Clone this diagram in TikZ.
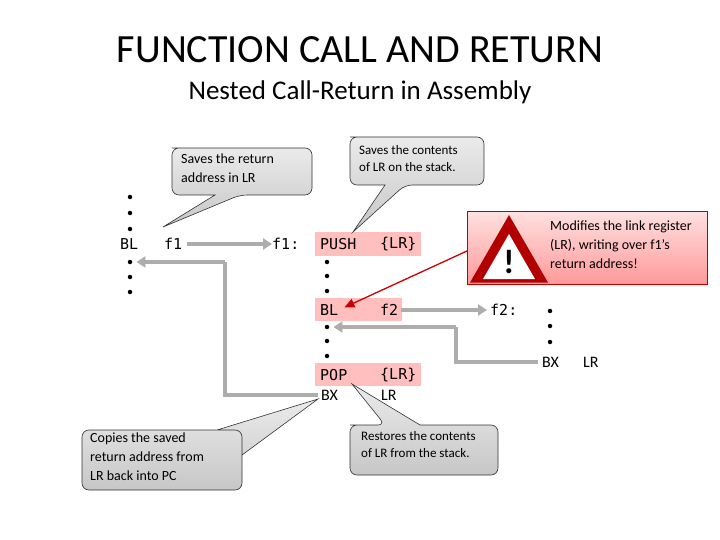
\documentclass[tikz,border=0pt]{standalone}
\usepackage{fontspec}
\setmainfont{Carlito}
\newfontfamily\codefont{DejaVu Sans Mono}
\usetikzlibrary{arrows.meta,shapes.geometric}
\begin{document}
\begin{tikzpicture}[x=1pt,y=-1pt,
  code/.style={font=\codefont\fontsize{15}{16}\selectfont,anchor=west,inner sep=0},
  hl/.style={fill=red!25,draw=none},
  dot/.style={circle,fill=black,inner sep=0,minimum size=4.5pt},
  flow/.style={draw=black!32,line width=4.5pt,-{Triangle[length=9pt,width=11pt]}},
  flown/.style={draw=black!32,line width=4.5pt},
  callout/.style={draw=black!80,line width=0.6pt,top color=black!8,bottom color=black!22},
  ctext/.style={font=\fontsize{14}{19}\selectfont,align=left,anchor=north west,inner sep=0}]
\useasboundingbox (0,0) rectangle (720,540);
\fill[white] (0,0) rectangle (720,540);
\node (title) at (360,50) {\fontsize{40}{44}\selectfont FUNCTION CALL AND RETURN};
\node (sub) at (360,92) {\fontsize{27}{30}\selectfont Nested Call-Return in Assembly};
% highlight boxes
\fill[hl] (315,232) rectangle (421,256);
\fill[hl] (315,298) rectangle (402,321);
\fill[hl] (315,363) rectangle (421,386);
% left column
\foreach \y/\n in {197/a1,213/a2,229/a3,262/a4,277/a5,292/a6}\node[dot] (\n) at (130,\y) {};
\node[code] (bl1) at (120,244) {BL};
\node[code] (f1) at (164,244) {f1};
\node[code] (f1l) at (272,244) {f1:};
\node[code] (push) at (320,244) {PUSH};
\node[code] (pushlr) at (380,244) {\{LR\}};
\foreach \y/\n in {262/b1,276/b2,291/b3,327/b4,341/b5,356/b6}\node[dot] (\n) at (327,\y) {};
\node[code] (bl2) at (320,310) {BL};
\node[code] (f2) at (380,310) {f2};
\node[code] (f2l) at (490,310) {f2:};
\node[code] (pop) at (320,375) {POP};
\node[code] (poplr) at (380,375) {\{LR\}};
\node[code,font=\fontsize{16}{16}\selectfont] (bx1) at (321,395) {BX};
\node[code,font=\fontsize{16}{16}\selectfont] (bx1lr) at (381,395) {LR};
\foreach \y/\n in {311/c1,326/c2,342/c3}\node[dot] (\n) at (550,\y) {};
\node[font=\fontsize{16}{16}\selectfont,anchor=west,inner sep=0] (bx2) at (542,362) {BX};
\node[font=\fontsize{16}{16}\selectfont,anchor=west,inner sep=0] (bx2lr) at (583,362) {LR};
% flow arrows
\draw[flow] (f1.east)++(5,0) -- (f1l.west);
\draw[flow] (f2.east)++(3,0) -- ([xshift=-3pt]f2l.west);
\draw[flown] ([xshift=-4pt]bx2.west) -- (456,362) -- (456,327);
\draw[flow] (456,327) -- ([xshift=4pt]b4.east);
\draw[flown] ([xshift=-3pt]bx1.west) -- (225,395) -- (225,262);
\draw[flow] (225,262) -- ([xshift=4pt]a4.east);
% warning
\node[draw=red!75!black,line width=0.8pt,top color=red!12,bottom color=red!40,minimum width=240pt,minimum height=73pt,anchor=north west,inner sep=0] (warn) at (467,211) {};
\node[regular polygon,regular polygon sides=3,fill=red!70!black,minimum size=90pt,inner sep=0] (tri) at (509,260) {};
\node[regular polygon,regular polygon sides=3,fill=white,minimum size=60pt,inner sep=0] (tri2) at (509,264) {};
\node[font=\bfseries\fontsize{34}{34}\selectfont] (excl) at (509,262) {!};
\node[ctext] (wtext) at (550,221) {Modifies the link register\\(LR), writing over f1's\\return address!};
\draw[red!80!black,line width=1.3pt,-{Triangle[length=10pt,width=9pt]}] (warn.west|-0,251) -- ([xshift=6pt,yshift=-3pt]bl2.north east);
% callouts
\draw[callout] (179,148) [rounded corners=7pt] -- (312,148) -- (312,195) -- (240,195) [sharp corners]-- (163,227) -- (215,195) [rounded corners=7pt] -- (172,195) -- (172,148) -- cycle;
\node[ctext] (c1) at (181,154) {Saves the return\\address in LR};
\draw[callout] (357,137) [rounded corners=7pt] -- (484,137) -- (484,185) -- (405,185) [sharp corners]-- (353,232) -- (385,185) [rounded corners=7pt] -- (350,185) -- (350,137) -- cycle;
\node[ctext,font=\fontsize{13}{17}\selectfont] (c2) at (359,145) {Saves the contents\\of LR on the stack.};
\draw[callout] (89,430) [rounded corners=7pt] -- (242,430) -- (242,490) -- (82,490) -- (82,430) -- (200,430) [sharp corners] -- (217,430)-- (318,399) -- (242,455) -- (242,440);
\node[ctext] (c3) at (90,433) {Copies the saved\\return address from\\LR back into PC};
\draw[callout] (357,425) [rounded corners=7pt] -- (385,425) [sharp corners] -- (352,384) -- (420,425) [rounded corners=7pt] -- (498,425) -- (498,475) -- (350,475) -- (350,425) -- cycle;
\node[ctext,font=\fontsize{13}{17}\selectfont] (c4) at (361,431) {Restores the contents\\of LR from the stack.};
\end{tikzpicture}
\end{document}
